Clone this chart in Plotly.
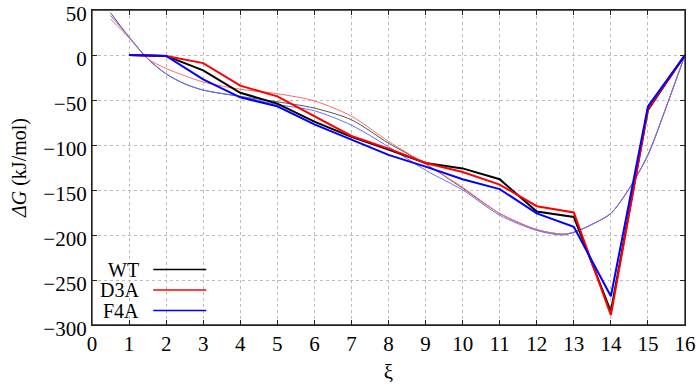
import plotly.graph_objects as go

# Thick PMF curves at integer xi
xi = [1, 2, 3, 4, 5, 6, 7, 8, 9, 10, 11, 12, 13, 14, 15, 16]
wt = [0, -1, -17, -42, -54, -74, -91, -105, -120, -126, -138, -174, -180, -285, -61, 0]
d3a = [0, -1, -9, -34, -46, -68, -90, -104, -120, -130, -144, -168, -175, -289, -60, 0]
f4a = [0, -1, -27, -47, -57, -77, -94, -111, -124, -138, -149, -176, -191, -268, -57, 0]

# Thin fitted curves
xi_fit = [0.5, 1, 1.5, 2, 2.5, 3, 4, 5, 6, 7, 8, 9, 10, 11, 12, 12.7, 13, 13.5, 14, 14.5, 15, 15.5, 16]
wt_fit = [47, 20, -4, -21, -32, -39, -46, -52, -59, -72, -98, -121, -148, -176, -194, -199, -197, -188, -176, -148, -111, -57, 0]
d3a_fit = [40, 19, -4, -15, -23, -30, -38, -43, -51, -68, -96, -121, -147, -176, -194, -199, -197, -188, -176, -148, -111, -57, 0]
f4a_fit = [44, 20, -4, -21, -32, -39, -46, -55, -62, -78, -102, -128, -150, -178, -195, -200, -197, -188, -176, -148, -111, -57, 0]

names = ["WT", "D3A", "F4A"]
colors = ["#000000", "#ff0000", "#0000ff"]
thin_colors = ["#555555", "#ff6a6a", "#6a6aff"]

x_ticks = list(range(0, 17))
y_ticks = [-300, -250, -200, -150, -100, -50, 0, 50]

fig = go.Figure()
for yv, c in zip([wt_fit, d3a_fit, f4a_fit], thin_colors):
    fig.add_trace(go.Scatter(x=xi_fit, y=yv, mode="lines",
                             line=dict(color=c, width=1, shape="spline", smoothing=0.8),
                             showlegend=False, hoverinfo="skip"))
for yv, c, n in zip([wt, d3a, f4a], colors, names):
    fig.add_trace(go.Scatter(x=xi, y=yv, mode="lines", name=n,
                             line=dict(color=c, width=2), showlegend=False))

font_family = "Liberation Serif, Times New Roman, serif"

# manual legend (text left of sample line, gnuplot style)
PX0, PX1, PY0, PY1 = 91.7, 685, 10, 325
legend_y = [269.5, 290, 310.5]
for n, c, yp in zip(names, colors, legend_y):
    yy = 1 - (yp - PY0) / (PY1 - PY0)
    fig.add_annotation(x=(141 - PX0) / (PX1 - PX0), y=yy, xref="paper", yref="paper", text=n,
                       showarrow=False, xanchor="right", yanchor="middle",
                       font=dict(family=font_family, size=20, color="black"))
    fig.add_shape(type="line", xref="paper", yref="paper",
                  x0=(153 - PX0) / (PX1 - PX0), x1=(206 - PX0) / (PX1 - PX0),
                  y0=yy, y1=yy, line=dict(color=c, width=1.5))

# plot frame
fig.add_shape(type="rect", xref="paper", yref="paper", x0=0, x1=1, y0=0, y1=1,
              line=dict(color="#222222", width=1.3), layer="above")

fig.update_xaxes(range=[0, 16], tickvals=x_ticks, ticktext=[str(v) for v in x_ticks],
                 showline=True, linecolor="#222222", linewidth=1.3, mirror="ticks",
                 ticks="inside", ticklen=5, tickcolor="#222222",
                 showgrid=True, gridcolor="#bcbcbc", griddash="dot", gridwidth=1,
                 zeroline=False, automargin=False, ticklabeloverflow="allow",
                 title=dict(text="ξ", font=dict(family=font_family, size=21), standoff=8),
                 tickfont=dict(family=font_family, size=21, color="black"))
fig.update_yaxes(range=[-300, 50], tickvals=y_ticks,
                 showline=True, linecolor="#222222", linewidth=1.3, mirror="ticks",
                 ticks="inside", ticklen=5, tickcolor="#222222",
                 showgrid=True, gridcolor="#bcbcbc", griddash="dot", gridwidth=1,
                 zeroline=False, automargin=False, ticklabeloverflow="allow",
                 ticklabelshift=4,
                 title=dict(text="<i>ΔG</i> (kJ/mol)", font=dict(family=font_family, size=20), standoff=11),
                 tickfont=dict(family=font_family, size=21, color="black"))

fig.update_layout(width=699, height=391, margin=dict(l=92, r=14, t=10, b=66, autoexpand=False),
                  plot_bgcolor="white", paper_bgcolor="white",
                  font=dict(family=font_family, color="black"))

fig.write_html("out.html", post_script="document.body.style.margin='0';",
               config={"displayModeBar": False})
